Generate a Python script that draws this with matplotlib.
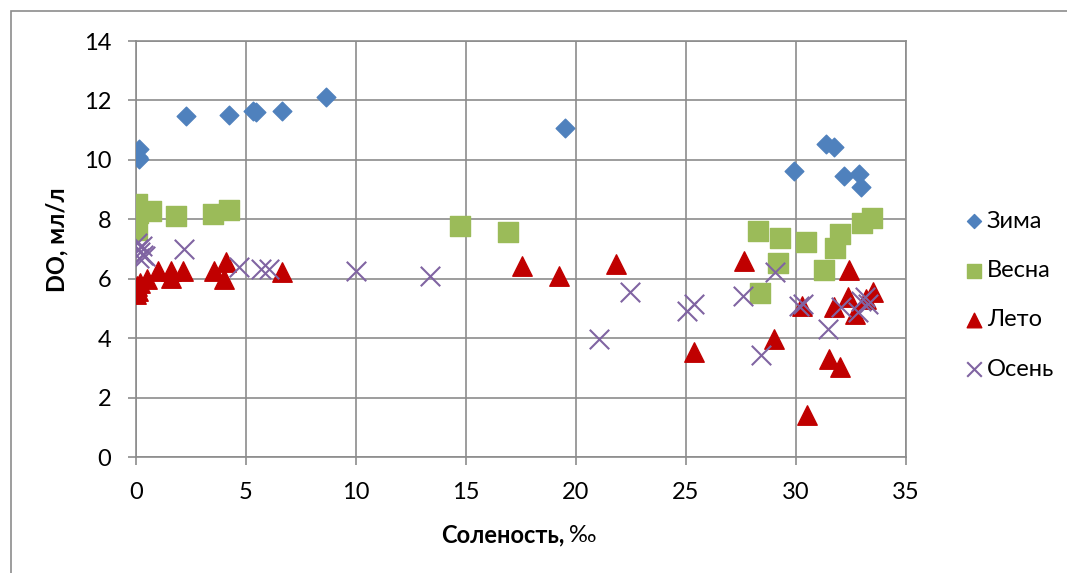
import numpy as np
import matplotlib
matplotlib.use("Agg")
import matplotlib.pyplot as plt
from matplotlib.patches import Rectangle

plt.rcParams['font.family'] = ['Lato', 'DejaVu Sans']

# salinity (‰) and dissolved oxygen (ml/l) by season
winter_x = [0.12, 0.15, 0.1, 2.27, 4.24, 5.33, 5.45, 6.62, 8.64, 19.5,
            29.9, 31.36, 31.74, 32.16, 32.88, 32.95]
winter_y = [10.36, 10.02, 10.08, 11.47, 11.5, 11.66, 11.62, 11.64, 12.12, 11.06,
            9.63, 10.52, 10.43, 9.46, 9.54, 9.09]

spring_x = [0.05, 0.1, 0.0, 0.05, 0.68, 1.82, 3.48, 4.24, 14.72, 16.9,
            28.29, 29.27, 30.45, 32.01, 31.79, 33.0, 33.45, 29.2, 31.25, 28.36]
spring_y = [8.5, 8.2, 7.9, 7.65, 8.28, 8.12, 8.19, 8.31, 7.78, 7.56,
            7.59, 7.37, 7.22, 7.5, 7.05, 7.89, 8.04, 6.53, 6.29, 5.52]

summer_x = [0.0, 0.1, 0.05, 0.2, 0.5, 0.98, 1.59, 1.59, 2.12, 3.56, 4.01, 4.1, 6.64,
            17.53, 19.24, 21.82, 25.38, 27.65, 28.98, 30.27, 30.48, 31.74, 31.51,
            32.0, 32.39, 32.35, 32.7, 33.2, 33.5]
summer_y = [5.5, 5.6, 5.75, 5.85, 6.0, 6.27, 6.27, 6.04, 6.27, 6.27, 5.99, 6.55, 6.21,
            6.44, 6.1, 6.49, 3.53, 6.6, 3.98, 5.09, 1.4, 5.04, 3.3,
            3.02, 6.29, 5.37, 4.82, 5.32, 5.54]

autumn_x = [0.05, 0.1, 0.2, 0.3, 0.15, 0.4, 0.25, 2.2, 4.7, 5.68, 6.06, 10.0,
            13.38, 21.06, 22.45, 25.03, 25.35, 27.57, 28.41, 29.06, 30.15, 30.3,
            31.44, 32.04, 32.8, 32.95, 33.15, 33.26]
autumn_y = [7.2, 7.0, 6.9, 6.8, 6.7, 6.75, 7.1, 7.0, 6.38, 6.33, 6.33, 6.27,
            6.1, 3.98, 5.54, 4.93, 5.15, 5.43, 3.42, 6.21, 5.09, 5.15,
            4.31, 5.04, 4.87, 5.26, 5.37, 5.15]

W, H = 1067, 573
fig = plt.figure(figsize=(W / 100, H / 100), dpi=100)
ax = fig.add_axes([136 / W, 1 - 457 / H, (906 - 136) / W, (457 - 41) / H])

# outer chart frame
fig.patches.append(Rectangle((11 / W, -0.1), 1.2, 1 - 11 / H + 0.1, transform=fig.transFigure,
                             fill=False, edgecolor='#8c8c8c', linewidth=1.2))

ax.scatter(winter_x, winter_y, marker='D', s=9.5**2, color='#4F81BD', label='Зима', zorder=3)
ax.scatter(spring_x, spring_y, marker='s', s=14**2, color='#9BBB59', label='Весна', zorder=3)
ax.scatter(summer_x, summer_y, marker='^', s=14**2, color='#C00000', label='Лето', zorder=3)
ax.scatter(autumn_x, autumn_y, marker='x', s=14**2, color='#8064A2', linewidths=1.5,
           label='Осень', zorder=3)

ax.set_xlim(0, 35)
ax.set_ylim(0, 14)
ax.set_xticks(np.arange(0, 36, 5))
ax.set_yticks(np.arange(0, 15, 2))
ax.grid(True, color='#8c8c8c', linewidth=1.2)
ax.set_axisbelow(True)
for s in ax.spines.values():
    s.set_color('#8c8c8c')
    s.set_linewidth(1.2)
ax.tick_params(colors='#8c8c8c', labelcolor='black', labelsize=17, length=5.8, width=1.2, pad=12)
ax.set_clip_on(False)

ax.set_ylabel('DO, мл/л', fontsize=17, fontweight='bold', va='center')
ax.yaxis.set_label_coords((57 - 136) / 770, (457 - 240) / 416)
fig.text(565 / W, 1 - 535 / H, 'Соленость,', fontsize=17, fontweight='bold', ha='right', va='center')
fig.text(569 / W, 1 - 535 / H, '‰', fontsize=17, ha='left', va='center')

ax.legend(loc='center left', bbox_to_anchor=(950 / W, 1 - 295 / H), bbox_transform=fig.transFigure,
          frameon=False, fontsize=17, markerscale=0.75, handletextpad=0.05, labelspacing=1.2,
          handlelength=1.0, borderpad=0)

fig.savefig('out.png', dpi=100)
